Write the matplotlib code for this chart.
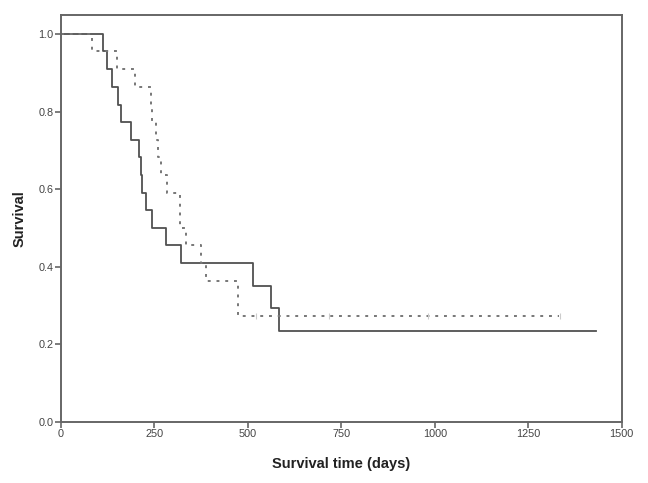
import numpy as np
import matplotlib
matplotlib.use("Agg")
import matplotlib.pyplot as plt

plt.rcParams['font.family'] = ['Liberation Sans', 'DejaVu Sans']

# gruppo 1 (linea continua): tempi (giorni) e sopravvivenza dopo ogni evento
t_cont = [0, 113, 124, 136, 153, 162, 188, 208, 213, 216, 227, 244, 281, 320, 514, 562, 584, 1432]
s_cont = [1.0, 0.955, 0.909, 0.864, 0.818, 0.773, 0.727, 0.682, 0.636, 0.591, 0.545, 0.500, 0.455, 0.409, 0.351, 0.292, 0.234, 0.234]

# gruppo 2 (linea tratteggiata)
t_tratt = [0, 82, 149, 198, 241, 243, 254, 260, 269, 285, 318, 319, 334, 376, 389, 474, 1332]
s_tratt = [1.0, 0.955, 0.909, 0.864, 0.818, 0.773, 0.727, 0.682, 0.636, 0.591, 0.545, 0.500, 0.455, 0.409, 0.364, 0.273, 0.273]

# osservazioni censurate del gruppo 2
t_cens = [523, 717, 982, 1335]
s_cens = [0.273, 0.273, 0.273, 0.273]

fig = plt.figure(figsize=(6.48, 4.83), dpi=100)
ax = fig.add_axes([0.094, 0.127, 0.8654, 0.8427])

ax.step(t_cont, s_cont, where='post', color='#505050', lw=1.3)
ax.step(t_tratt, s_tratt, where='post', color='#777777', lw=1.4, linestyle=(0, (1.5, 3.0)))
ax.plot(t_cens, s_cens, linestyle='none', marker='|', ms=4, color='#cccccc', mew=0.8)

ax.set_xlim(0, 1500)
ax.set_ylim(0, 1.05)
ax.set_xticks([0, 250, 500, 750, 1000, 1250, 1500])
ax.set_yticks([0.0, 0.2, 0.4, 0.6, 0.8, 1.0])
ax.set_yticklabels(['0.0', '0.2', '0.4', '0.6', '0.8', '1.0'])

for sp in ax.spines.values():
    sp.set_color('#666666')
    sp.set_linewidth(1.4)

ax.tick_params(axis='both', direction='out', length=4, width=1.2, color='#666666',
               labelsize=7.8, labelcolor='#444444', pad=1.5)

ax.set_xlabel('Survival time (days)', fontsize=10.5, fontweight='bold', color='#222222', labelpad=13)
ax.set_ylabel('Survival', fontsize=10.5, fontweight='bold', color='#222222', labelpad=8)

fig.savefig('out.png', dpi=100)
